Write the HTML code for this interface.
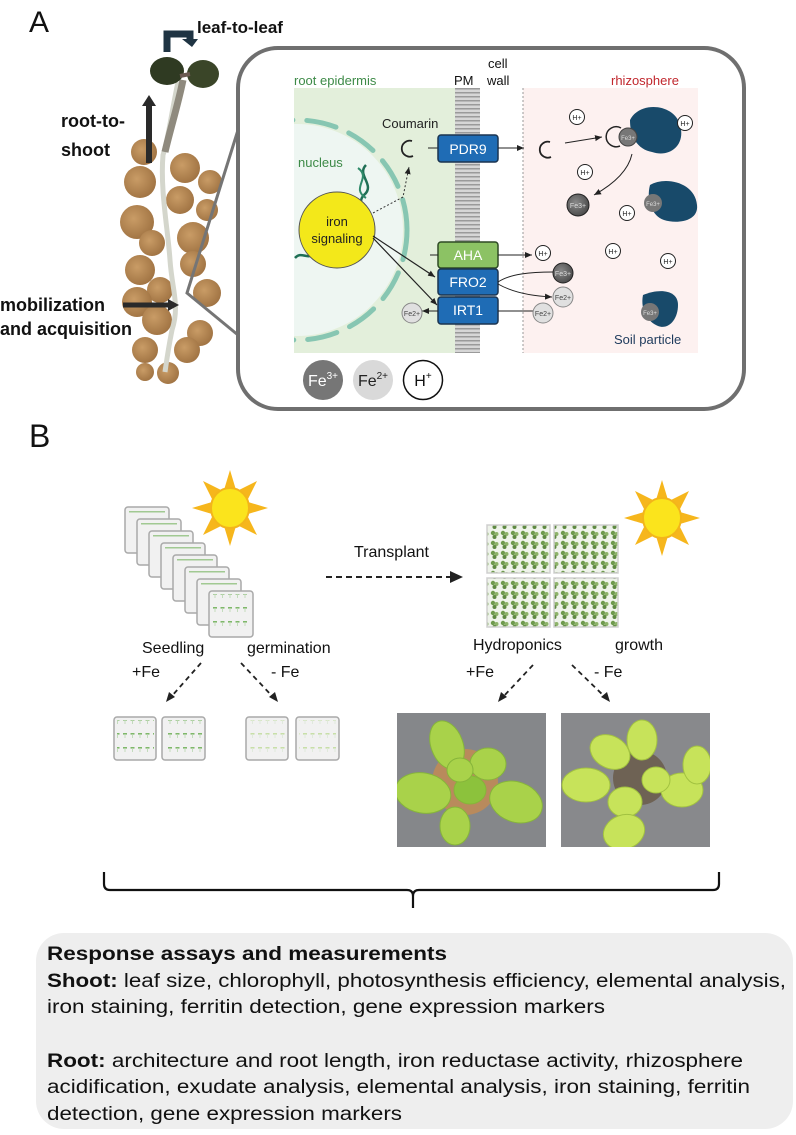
<!DOCTYPE html>
<html><head><meta charset="utf-8"><style>
html,body{margin:0;padding:0;background:#fff;}
svg{display:block;font-family:"Liberation Sans",sans-serif;}
</style></head><body>
<svg width="796" height="1135" viewBox="0 0 796 1135" xmlns="http://www.w3.org/2000/svg">
<defs>
<pattern id="memb" width="6" height="4" patternUnits="userSpaceOnUse">
<rect width="6" height="4" fill="#d6d6d6"/><rect y="0" width="6" height="1.5" fill="#9a9a9a"/>
</pattern>
<pattern id="seed" x="2" y="4" width="7.5" height="14" patternUnits="userSpaceOnUse">
<rect x="1" y="1" width="4" height="1.6" fill="#7fb86a"/><rect x="2.6" y="2" width="0.8" height="4" fill="#b8d6b0"/>
</pattern>
<pattern id="seedpale" x="2" y="4" width="7.5" height="14" patternUnits="userSpaceOnUse">
<rect x="1" y="1" width="4" height="1.6" fill="#c8dfa8"/><rect x="2.6" y="2" width="0.8" height="4" fill="#dde8d8"/>
</pattern>
<pattern id="hyd" width="10" height="10" patternUnits="userSpaceOnUse">
<rect width="10" height="10" fill="#eef3ea"/><circle cx="3" cy="3" r="2.2" fill="#6f9a4e"/><circle cx="6.5" cy="4" r="2" fill="#8db36a"/><circle cx="4.5" cy="7" r="2" fill="#5f8a42"/>
</pattern>
<marker id="ah" markerWidth="8" markerHeight="8" refX="7" refY="4" orient="auto" markerUnits="userSpaceOnUse"><path d="M0,1 L7,4 L0,7 Z" fill="#222"/></marker>
<radialGradient id="soilg" cx="0.4" cy="0.4" r="0.7"><stop offset="0" stop-color="#c99c66"/><stop offset="1" stop-color="#9c6f3f"/></radialGradient>
<radialGradient id="fe3g" cx="0.4" cy="0.4" r="0.7"><stop offset="0" stop-color="#8a8a8a"/><stop offset="1" stop-color="#444"/></radialGradient>
</defs>

<text x="29" y="32" font-size="30" fill="#111">A</text>

<g fill="url(#soilg)">
<circle cx="144" cy="152" r="13"/><circle cx="140" cy="182" r="16"/><circle cx="185" cy="168" r="15"/>
<circle cx="210" cy="182" r="12"/><circle cx="180" cy="200" r="14"/><circle cx="137" cy="222" r="17"/>
<circle cx="207" cy="210" r="11"/><circle cx="152" cy="243" r="13"/><circle cx="193" cy="238" r="16"/>
<circle cx="140" cy="270" r="15"/><circle cx="193" cy="264" r="13"/><circle cx="160" cy="290" r="13"/>
<circle cx="207" cy="293" r="14"/><circle cx="137" cy="302" r="15"/><circle cx="157" cy="320" r="15"/>
<circle cx="200" cy="333" r="13"/><circle cx="145" cy="350" r="13"/><circle cx="187" cy="350" r="13"/>
<circle cx="168" cy="373" r="11"/><circle cx="145" cy="372" r="9"/>
</g>
<path d="M178,82 C172,110 168,140 163,155 C160,190 168,230 170,260 C172,290 180,305 172,330 C168,350 166,365 165,372" stroke="#d4d6cc" stroke-width="5" fill="none"/>
<path d="M183,80 C178,105 170,130 165,152" stroke="#8f8a7e" stroke-width="7" fill="none"/>
<ellipse cx="167" cy="71" rx="17" ry="14" fill="#2f3a22"/>
<ellipse cx="203" cy="74" rx="16" ry="14" fill="#3a4528"/>
<path d="M180,76 L190,74" stroke="#6b5a52" stroke-width="4"/>
<path d="M167,52 L167,34 L190,34 L190,40" stroke="#1f3443" stroke-width="7" fill="none"/>
<path d="M182,39 L198,39 L192,47 Z" fill="#1f3443"/>
<text x="197" y="33" font-size="17" font-weight="bold" fill="#111">leaf-to-leaf</text>
<rect x="146" y="104" width="6" height="59" fill="#2a2a2a"/>
<path d="M142,106 L149,95 L156,106 Z" fill="#2a2a2a"/>
<text x="61" y="127" font-size="18" font-weight="bold" fill="#111">root-to-</text>
<text x="61" y="156" font-size="18" font-weight="bold" fill="#111">shoot</text>
<text x="0" y="311" font-size="18" font-weight="bold" fill="#111">mobilization</text>
<text x="0" y="335" font-size="18" font-weight="bold" fill="#111">and acquisition</text>
<line x1="123" y1="305" x2="170" y2="305" stroke="#2a2a2a" stroke-width="5"/>
<path d="M168,299 L179,305 L168,311 Z" fill="#2a2a2a"/>
<path d="M238,130 L187,293 L238,335" stroke="#757575" stroke-width="3" fill="none"/>

<rect x="238" y="48" width="506" height="361" rx="40" fill="#fff" stroke="#6f6f6f" stroke-width="4"/>
<rect x="294" y="88" width="162" height="265" fill="#e3efdb"/>
<rect x="523" y="88" width="175" height="265" fill="#fdf1f0"/>
<line x1="523" y1="88" x2="523" y2="353" stroke="#999" stroke-width="1" stroke-dasharray="2,2"/>
<rect x="455" y="88" width="25" height="265" fill="url(#memb)"/>
<clipPath id="gclip"><rect x="294" y="88" width="162" height="265"/></clipPath>
<g clip-path="url(#gclip)">
<circle cx="297" cy="230" r="106" fill="#eef6f2"/>
<circle cx="297" cy="230" r="110" fill="none" stroke="#87c6b2" stroke-width="5" stroke-linecap="round" stroke-dasharray="30,14"/>
<path d="M366,165 C356,175 376,185 364,195 C354,205 374,212 362,220" stroke="#1f6f55" stroke-width="2.5" fill="none"/>
<path d="M358,168 C372,178 350,188 366,198" stroke="#2f8a6a" stroke-width="2" fill="none"/>
<path d="M295,258 C302,250 308,262 315,252" stroke="#1f6f55" stroke-width="2.5" fill="none"/>
</g>
<text x="294" y="85" font-size="13" fill="#3d8a47">root epidermis</text>
<text x="454" y="85" font-size="13" fill="#111">PM</text>
<text x="488" y="68" font-size="13" fill="#111">cell</text>
<text x="487" y="85" font-size="13" fill="#111">wall</text>
<text x="611" y="85" font-size="13" fill="#c1272d">rhizosphere</text>
<text x="298" y="167" font-size="13" fill="#3d8a47">nucleus</text>
<text x="382" y="128" font-size="13" fill="#222">Coumarin</text>

<circle cx="337" cy="230" r="38" fill="#f3e81a" stroke="#555" stroke-width="1"/>
<text x="337" y="226" font-size="13" text-anchor="middle" fill="#222">iron</text>
<text x="337" y="243" font-size="13" text-anchor="middle" fill="#222">signaling</text>

<path d="M412,141 A8,8 0 1,0 413,156" stroke="#222" stroke-width="1.8" fill="none"/>
<line x1="428" y1="148" x2="438" y2="148" stroke="#222" stroke-width="1"/>
<path d="M373,213 L403,197 L409,167" stroke="#333" stroke-width="1" fill="none" stroke-dasharray="2,2" marker-end="url(#ah)"/>
<line x1="373" y1="236" x2="435" y2="277" stroke="#222" stroke-width="1.2" marker-end="url(#ah)"/>
<line x1="373" y1="238" x2="437" y2="305" stroke="#222" stroke-width="1.2" marker-end="url(#ah)"/>

<rect x="438" y="135" width="60" height="27" rx="3" fill="#1f6cb5" stroke="#1b3450" stroke-width="1.5"/>
<text x="468" y="154" font-size="14" fill="#fff" text-anchor="middle">PDR9</text>
<rect x="438" y="242" width="60" height="26" rx="3" fill="#8cc264" stroke="#2e4a24" stroke-width="1.5"/>
<text x="468" y="260" font-size="14" fill="#fff" text-anchor="middle">AHA</text>
<rect x="438" y="269" width="60" height="26" rx="3" fill="#1f6cb5" stroke="#1b3450" stroke-width="1.5"/>
<text x="468" y="287" font-size="14" fill="#fff" text-anchor="middle">FRO2</text>
<rect x="438" y="297" width="60" height="27" rx="3" fill="#1f6cb5" stroke="#1b3450" stroke-width="1.5"/>
<text x="468" y="315" font-size="14" fill="#fff" text-anchor="middle">IRT1</text>
<line x1="430" y1="255" x2="438" y2="255" stroke="#222"/>

<line x1="498" y1="148" x2="524" y2="148" stroke="#222" stroke-width="1" marker-end="url(#ah)"/>
<path d="M550,142 A8,8 0 1,0 551,157" stroke="#222" stroke-width="1.8" fill="none"/>
<line x1="565" y1="143" x2="602" y2="137" stroke="#222" stroke-width="1" marker-end="url(#ah)"/>
<line x1="498" y1="255" x2="532" y2="255" stroke="#222" stroke-width="1" marker-end="url(#ah)"/>
<path d="M498,282 C510,274 530,272 553,272" stroke="#222" stroke-width="1" fill="none"/>
<path d="M498,284 C512,292 530,296 552,297" stroke="#222" stroke-width="1" fill="none" marker-end="url(#ah)"/>
<line x1="535" y1="311" x2="498" y2="311" stroke="#222" stroke-width="1"/>
<line x1="438" y1="311" x2="422" y2="311" stroke="#222" stroke-width="1" marker-end="url(#ah)"/>
<path d="M632,154 C628,172 612,185 594,195" stroke="#222" stroke-width="1" fill="none" marker-end="url(#ah)"/>

<path d="M630,120 C640,100 675,104 680,125 C686,145 670,158 652,152 C640,150 630,140 630,120 Z" fill="#184a6a"/>
<path d="M650,185 C665,176 695,182 697,205 C699,222 676,224 664,220 C652,216 646,200 650,185 Z" fill="#184a6a"/>
<path d="M643,295 C660,288 678,290 678,305 C678,320 668,330 658,326 C648,322 640,310 643,295 Z" fill="#184a6a"/>
<circle cx="628" cy="137" r="9" fill="#777" stroke="#444"/><path d="M621,128 A10,10 0 1,0 620,146" stroke="#222" stroke-width="1.5" fill="none"/>
<text x="628" y="140" font-size="6" fill="#ddd" text-anchor="middle">Fe3+</text>
<circle cx="653" cy="203" r="9" fill="#777"/><text x="653" y="206" font-size="6" fill="#ddd" text-anchor="middle">Fe3+</text>
<circle cx="650" cy="312" r="9" fill="#777"/><text x="650" y="315" font-size="6" fill="#ddd" text-anchor="middle">Fe3+</text>
<text x="614" y="344" font-size="13" fill="#1d3a5c">Soil particle</text>

<circle cx="578" cy="205" r="11" fill="url(#fe3g)" stroke="#222"/><text x="578" y="208" font-size="7" fill="#ddd" text-anchor="middle">Fe3+</text>
<circle cx="563" cy="273" r="10" fill="url(#fe3g)" stroke="#222"/><text x="563" y="276" font-size="7" fill="#ddd" text-anchor="middle">Fe3+</text>
<circle cx="563" cy="297" r="10" fill="#e0e0e0" stroke="#888"/><text x="563" y="300" font-size="7" fill="#444" text-anchor="middle">Fe2+</text>
<circle cx="543" cy="313" r="10" fill="#e0e0e0" stroke="#888"/><text x="543" y="316" font-size="7" fill="#444" text-anchor="middle">Fe2+</text>
<circle cx="412" cy="313" r="10" fill="#e0e0e0" stroke="#888"/><text x="412" y="316" font-size="7" fill="#444" text-anchor="middle">Fe2+</text>
<g fill="#fff" stroke="#222" stroke-width="1">
<circle cx="577" cy="117" r="7.5"/><circle cx="685" cy="123" r="7.5"/><circle cx="585" cy="172" r="7.5"/>
<circle cx="627" cy="213" r="7.5"/><circle cx="613" cy="251" r="7.5"/><circle cx="668" cy="261" r="7.5"/><circle cx="543" cy="253" r="7.5"/>
</g>
<g font-size="7" fill="#222" text-anchor="middle">
<text x="577" y="120">H+</text><text x="685" y="126">H+</text><text x="585" y="175">H+</text>
<text x="627" y="216">H+</text><text x="613" y="254">H+</text><text x="668" y="264">H+</text><text x="543" y="256">H+</text>
</g>
<circle cx="323" cy="380" r="20" fill="#767676"/>
<text x="323" y="386" font-size="16" fill="#fff" text-anchor="middle">Fe<tspan font-size="10" dy="-7">3+</tspan></text>
<circle cx="373" cy="380" r="20" fill="#d9d9d9"/>
<text x="373" y="386" font-size="16" fill="#222" text-anchor="middle">Fe<tspan font-size="10" dy="-7">2+</tspan></text>
<circle cx="423" cy="380" r="19.5" fill="#fff" stroke="#111" stroke-width="1.5"/>
<text x="423" y="386" font-size="16" fill="#111" text-anchor="middle">H<tspan font-size="10" dy="-7">+</tspan></text>

<text x="29" y="447" font-size="32" fill="#111">B</text>

<g stroke="#a9a9a9" stroke-width="1.5">
<rect x="125" y="507" width="44" height="46" rx="3" fill="#f1f1f1"/>
<rect x="137" y="519" width="44" height="46" rx="3" fill="#f1f1f1"/>
<rect x="149" y="531" width="44" height="46" rx="3" fill="#f1f1f1"/>
<rect x="161" y="543" width="44" height="46" rx="3" fill="#f1f1f1"/>
<rect x="173" y="555" width="44" height="46" rx="3" fill="#f1f1f1"/>
<rect x="185" y="567" width="44" height="46" rx="3" fill="#f1f1f1"/>
<rect x="197" y="579" width="44" height="46" rx="3" fill="#f1f1f1"/>
<rect x="209" y="591" width="44" height="46" rx="3" fill="#f1f1f1"/>
</g>
<rect x="212" y="594" width="38" height="40" fill="url(#seed)"/>
<g fill="#7fb86a"><rect x="129" y="511" width="36" height="1.5" opacity="0.7"/><rect x="141" y="523" width="36" height="1.5" opacity="0.7"/><rect x="153" y="535" width="36" height="1.5" opacity="0.7"/><rect x="165" y="547" width="36" height="1.5" opacity="0.7"/><rect x="177" y="559" width="36" height="1.5" opacity="0.7"/><rect x="189" y="571" width="36" height="1.5" opacity="0.7"/><rect x="201" y="583" width="36" height="1.5" opacity="0.7"/></g>

<g transform="translate(230,508)">
<g fill="#f6b61c">
<path d="M0,-38 L-6,-18 L6,-18 Z"/><path d="M0,38 L-6,18 L6,18 Z"/><path d="M-38,0 L-18,-6 L-18,6 Z"/><path d="M38,0 L18,-6 L18,6 Z"/>
<path d="M-27,-27 L-18,-9 L-9,-18 Z"/><path d="M27,-27 L18,-9 L9,-18 Z"/><path d="M-27,27 L-18,9 L-9,18 Z"/><path d="M27,27 L18,9 L9,18 Z"/>
</g>
<ellipse cx="0" cy="0" rx="19" ry="20" fill="#fbe41c" stroke="#f3b51a" stroke-width="2"/>
</g>
<g transform="translate(662,518)">
<g fill="#f6b61c">
<path d="M0,-38 L-6,-18 L6,-18 Z"/><path d="M0,38 L-6,18 L6,18 Z"/><path d="M-38,0 L-18,-6 L-18,6 Z"/><path d="M38,0 L18,-6 L18,6 Z"/>
<path d="M-27,-27 L-18,-9 L-9,-18 Z"/><path d="M27,-27 L18,-9 L9,-18 Z"/><path d="M-27,27 L-18,9 L-9,18 Z"/><path d="M27,27 L18,9 L9,18 Z"/>
</g>
<ellipse cx="0" cy="0" rx="19" ry="20" fill="#fbe41c" stroke="#f3b51a" stroke-width="2"/>
</g>

<text x="354" y="557" font-size="16" fill="#111">Transplant</text>
<line x1="326" y1="577" x2="452" y2="577" stroke="#222" stroke-width="2" stroke-dasharray="6,4"/>
<path d="M450,571 L463,577 L450,583 Z" fill="#222"/>

<g stroke="#d0d0d0" stroke-width="1.5">
<rect x="487" y="525" width="63" height="48" fill="url(#hyd)"/>
<rect x="554" y="525" width="64" height="48" fill="url(#hyd)"/>
<rect x="487" y="578" width="63" height="49" fill="url(#hyd)"/>
<rect x="554" y="578" width="64" height="49" fill="url(#hyd)"/>
</g>

<g font-size="16" fill="#111">
<text x="142" y="653">Seedling</text>
<text x="247" y="653">germination</text>
<text x="473" y="650">Hydroponics</text>
<text x="615" y="650">growth</text>
<text x="132" y="677">+Fe</text>
<text x="271" y="677">- Fe</text>
<text x="466" y="677">+Fe</text>
<text x="594" y="677">- Fe</text>
</g>
<g stroke="#222" stroke-width="1.8" stroke-dasharray="5,4" fill="none">
<line x1="201" y1="663" x2="171" y2="697"/>
<line x1="241" y1="663" x2="273" y2="697"/>
<line x1="533" y1="665" x2="503" y2="697"/>
<line x1="572" y1="665" x2="605" y2="697"/>
</g>
<g fill="#222">
<path d="M166,702 L169,692 L175,697 Z"/><path d="M278,702 L269,697 L275,692 Z"/>
<path d="M498,702 L501,692 L507,697 Z"/><path d="M610,702 L601,697 L607,692 Z"/>
</g>

<g stroke="#a9a9a9" stroke-width="1.5" fill="#f1f1f1">
<rect x="114" y="717" width="42" height="43" rx="3"/><rect x="162" y="717" width="43" height="43" rx="3"/>
<rect x="246" y="717" width="42" height="43" rx="3"/><rect x="296" y="717" width="43" height="43" rx="3"/>
</g>
<rect x="117" y="720" width="37" height="38" fill="url(#seed)"/><rect x="165" y="720" width="37" height="38" fill="url(#seed)"/>
<rect x="249" y="720" width="37" height="38" fill="url(#seedpale)"/><rect x="299" y="720" width="37" height="38" fill="url(#seedpale)"/>

<!-- photos -->
<clipPath id="p1"><rect x="397" y="713" width="149" height="134"/></clipPath>
<clipPath id="p2"><rect x="561" y="713" width="149" height="134"/></clipPath>
<rect x="397" y="713" width="149" height="134" fill="#85878a"/>
<g clip-path="url(#p1)">
<circle cx="465" cy="782" r="33" fill="#b98a5c"/>
<g fill="#a9d24a" stroke="#86b53a" stroke-width="1">
<ellipse cx="447" cy="745" rx="16" ry="25" transform="rotate(-20 447 745)"/>
<ellipse cx="488" cy="764" rx="18" ry="16"/>
<ellipse cx="423" cy="793" rx="28" ry="20" transform="rotate(10 423 793)"/>
<ellipse cx="516" cy="802" rx="27" ry="20" transform="rotate(20 516 802)"/>
<ellipse cx="455" cy="826" rx="15" ry="19"/>
<ellipse cx="470" cy="790" rx="16" ry="14" fill="#8cc23c"/>
<ellipse cx="460" cy="770" rx="13" ry="12"/>
</g>
</g>
<rect x="561" y="713" width="149" height="134" fill="#88898c"/>
<g clip-path="url(#p2)">
<circle cx="640" cy="778" r="27" fill="#6e6254"/>
<g fill="#c7e35a" stroke="#a2c240" stroke-width="1">
<ellipse cx="642" cy="740" rx="15" ry="20"/>
<ellipse cx="610" cy="752" rx="21" ry="16" transform="rotate(30 610 752)"/>
<ellipse cx="586" cy="785" rx="24" ry="17"/>
<ellipse cx="625" cy="802" rx="17" ry="15"/>
<ellipse cx="624" cy="832" rx="21" ry="17" transform="rotate(-20 624 832)"/>
<ellipse cx="682" cy="790" rx="21" ry="17"/>
<ellipse cx="656" cy="780" rx="14" ry="13"/>
<ellipse cx="697" cy="765" rx="14" ry="19"/>
</g>
</g>

<path d="M104,872 L104,884 Q104,890 110,890 L407,890 Q413,890 413,896 L413,908 M413,896 Q413,890 419,890 L713,890 Q719,890 719,884 L719,872" stroke="#111" stroke-width="2.2" fill="none"/>

<rect x="36" y="933" width="757" height="196" rx="28" fill="#eeeeee"/>
<g font-size="19" fill="#111">
<text x="47" y="960" font-weight="bold" textLength="400" lengthAdjust="spacingAndGlyphs">Response assays and measurements</text>
<text x="47" y="987" textLength="739" lengthAdjust="spacingAndGlyphs"><tspan font-weight="bold">Shoot:</tspan> leaf size, chlorophyll, photosynthesis efficiency, elemental analysis,</text>
<text x="47" y="1013" textLength="558" lengthAdjust="spacingAndGlyphs">iron staining, ferritin detection, gene expression markers</text>
<text x="47" y="1067" textLength="696" lengthAdjust="spacingAndGlyphs"><tspan font-weight="bold">Root:</tspan> architecture and root length, iron reductase activity, rhizosphere</text>
<text x="47" y="1093" textLength="703" lengthAdjust="spacingAndGlyphs">acidification, exudate analysis, elemental analysis, iron staining, ferritin</text>
<text x="47" y="1120" textLength="355" lengthAdjust="spacingAndGlyphs">detection, gene expression markers</text>
</g>
</svg>
</body></html>
